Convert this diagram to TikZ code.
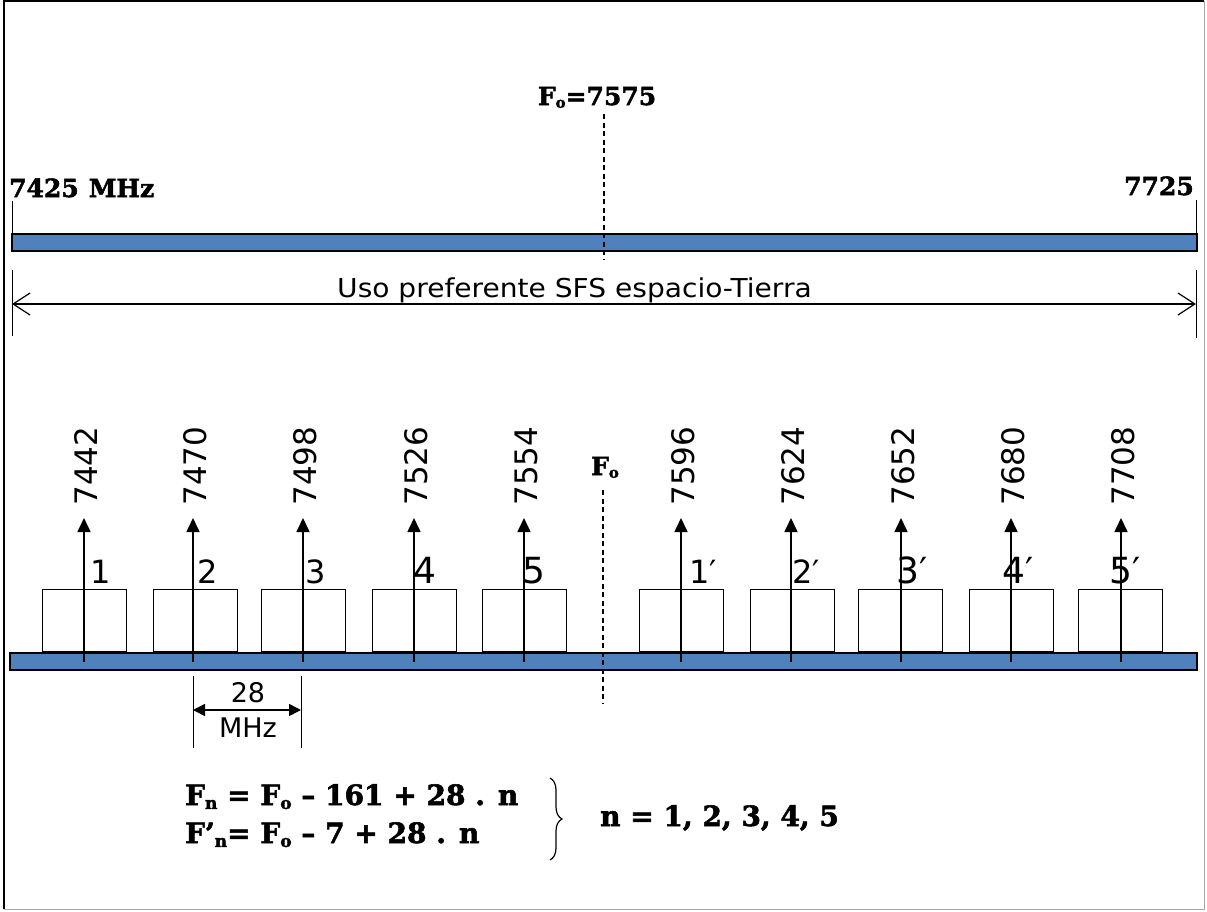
\documentclass[tikz,border=0pt]{standalone}
\usepackage{fontspec}
\setmainfont{DejaVu Sans}
\newfontfamily\widesans[FakeStretch=1.08]{DejaVu Sans}
\newfontfamily\heavyserif[BoldFeatures={FakeBold=2}]{DejaVu Serif}
\usetikzlibrary{arrows.meta,decorations.pathreplacing}
\definecolor{barblue}{HTML}{4F81BD}
\begin{document}
\begin{tikzpicture}[x=1pt,y=-1pt,
  bar/.style={draw=black, fill=barblue, line width=1.6pt, inner sep=0pt, minimum height=17pt},
  chan/.style={draw=black, line width=1.2pt, inner sep=0pt, minimum width=84pt, minimum height=62pt, anchor=south west},
  freq/.style={font=\fontsize{31}{31}\selectfont, rotate=90, inner sep=0pt},
  num/.style={font=\fontsize{32}{32}\selectfont, anchor=base west, inner sep=0pt},
  bignum/.style={font=\fontsize{36}{36}\selectfont, anchor=base west, inner sep=0pt},
  boldlab/.style={font=\heavyserif\bfseries\fontsize{25}{25}\selectfont, inner sep=0pt},
  boldeq/.style={font=\heavyserif\bfseries\fontsize{28}{28}\selectfont, inner sep=0pt, anchor=base west},
  carrier/.style={line width=1.6pt, -{Triangle[length=14pt,width=13pt]}},
  tick/.style={line width=1pt},
  fdash/.style={line width=1.2pt, dash pattern=on 5pt off 3.5pt}]
\useasboundingbox (0,0) rectangle (1207,911);
% frame
\draw[line width=1.5pt] (4,909) -- (4,1) -- (1204,1);
\draw[gray!70, line width=1pt] (1204,1) -- (1204,909) -- (4,909);

% ---------- upper band ----------
\node[bar, minimum width=1185pt] (topbar) at (604.5,242.5) {};
\coordinate (tl1) at (12,201); \coordinate (tl2) at (12,233);
\coordinate (tr1) at (1196,200); \coordinate (tr2) at (1196,233);
\draw[tick] (tl1) -- (tl2);
\draw[tick] (tr1) -- (tr2);
\node[boldlab, anchor=base west] (flo) at (9,197) {7425\hspace{0.4em}MHz};
\node[boldlab, anchor=base east] (fhi) at (1194,195) {7725};
\node[boldlab, anchor=base] (fo) at (597,105) {F{\fontsize{15}{15}\selectfont\raisebox{-0.35ex}{o}}=7575};
\coordinate (d1) at (604,114); \coordinate (d2) at (604,259);
\draw[fdash] (d1) -- (d2);

\coordinate (ul1) at (12,270); \coordinate (ul2) at (12,336);
\coordinate (ur1) at (1196,270); \coordinate (ur2) at (1196,338);
\draw[tick] (ul1) -- (ul2);
\draw[tick] (ur1) -- (ur2);
\coordinate (al) at (12,304); \coordinate (ar) at (1196,304);
\draw[line width=1.2pt, {Straight Barb[length=17pt,width=22pt,line width=1.2pt]}-{Straight Barb[length=17pt,width=22pt,line width=1.2pt]}] (al) -- (ar);
\node[font=\widesans\fontsize{26}{26}\selectfont, anchor=base west, inner sep=0pt] (uso) at (337,297) {Uso preferente SFS espacio-Tierra};

% ---------- lower band ----------
\node[bar, minimum width=1187pt] (lowbar) at (603.5,661.5) {};

\foreach \bx/\ax/\f/\lx/\n/\st [count=\i] in {
  42/84/7442/90/1/num, 153/193/7470/197/2/num, 261/303/7498/305/3/num, 372/414/7526/413/4/bignum, 482/524/7554/522/5/bignum,
  639/681/7596/689/1′/num, 750/791/7624/792/2′/num, 858/901/7652/896/3′/bignum, 969/1011/7680/1002/4′/bignum, 1078/1121/7708/1109/5′/bignum}{
  \node[chan] (box\i) at (\bx,652) {};
  \coordinate (base\i) at (\ax,662);
  \coordinate (tip\i) at (\ax,518);
  \draw[carrier] (base\i) -- (tip\i);
  \node[freq] (f\i) at (\ax+2,466) {\f};
  \node[\st] (n\i) at (\lx,583) {\n};
}

\node[boldlab, anchor=base] (fo2) at (605,475) {F{\fontsize{15}{15}\selectfont\raisebox{-0.35ex}{o}}};
\coordinate (e1) at (603,490); \coordinate (e2) at (603,704);
\draw[fdash] (e1) -- (e2);

% 28 MHz spacing
\coordinate (s1a) at (193,676); \coordinate (s1b) at (193,748);
\coordinate (s2a) at (301,676); \coordinate (s2b) at (301,748);
\draw[tick] (s1a) -- (s1b);
\draw[tick] (s2a) -- (s2b);
\coordinate (sa) at (193,710); \coordinate (sb) at (301,710);
\draw[line width=1.6pt, {Triangle[length=12pt,width=12pt]}-{Triangle[length=12pt,width=12pt]}] (sa) -- (sb);
\node[font=\fontsize{27}{27}\selectfont, anchor=base, inner sep=0pt] (s28) at (248,702) {28};
\node[font=\fontsize{27}{27}\selectfont, anchor=base, inner sep=0pt] (smhz) at (248,737) {MHz};

% formulas
\newcommand{\sbx}[1]{{\fontsize{17}{17}\selectfont\raisebox{-0.45ex}{#1}}}
\node[boldeq] (eq1) at (185,805) {F\sbx{n} = F\sbx{o} – 161 + 28 . n};
\node[boldeq] (eq2) at (185,843) {F’\sbx{n}= F\sbx{o} – 7 + 28 . n};
\coordinate (b1) at (550,778); \coordinate (b2) at (550,860);
\draw[line width=1.2pt, decorate, decoration={brace, amplitude=12pt}] (b1) -- (b2);
\node[boldeq] (nrange) at (600,826) {n = 1, 2, 3, 4, 5};
\end{tikzpicture}
\end{document}
